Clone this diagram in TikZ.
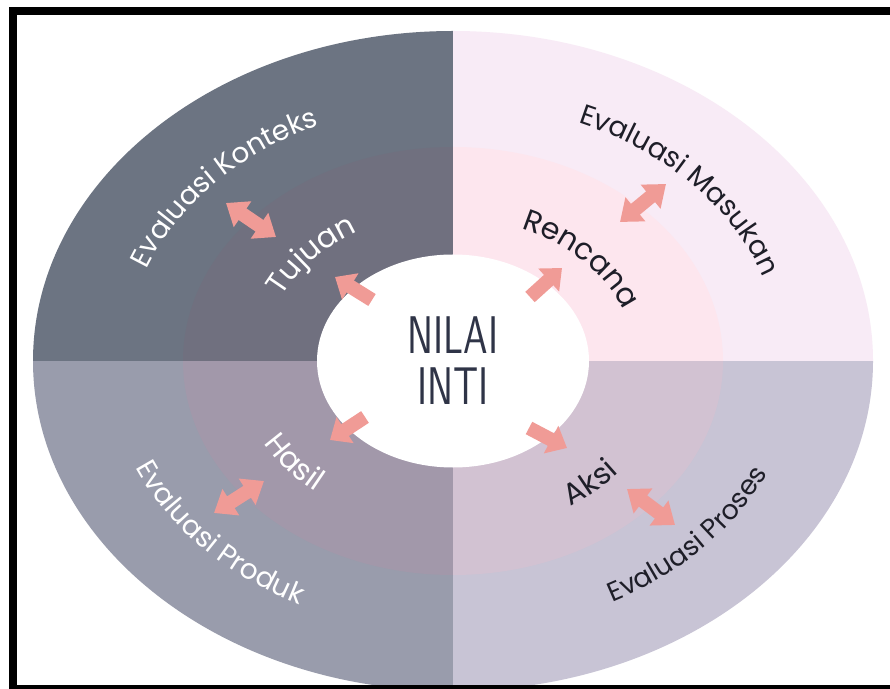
\documentclass[tikz,border=0pt]{standalone}
\usepackage{fontspec}
\usepackage{graphicx}
\usetikzlibrary{decorations.text,arrows.meta,shapes.geometric}
\newfontfamily\labfont{Poppins}
\definecolor{tlO}{HTML}{6C7482}
\definecolor{tlI}{HTML}{70707F}
\definecolor{trO}{HTML}{F8EBF6}
\definecolor{trI}{HTML}{FDE6EE}
\definecolor{blO}{HTML}{999CAC}
\definecolor{blI}{HTML}{A298AA}
\definecolor{brO}{HTML}{C8C4D5}
\definecolor{brI}{HTML}{D2C2D2}
\definecolor{arrowc}{HTML}{F09B96}
\definecolor{coretext}{HTML}{2F3447}
\definecolor{darktext}{HTML}{1E1E28}
\begin{document}
\begin{tikzpicture}[x=1pt,y=1pt,
  pa/.style={draw=arrowc, line width=14pt, -{Triangle[width=30pt,length=18pt]}},
  dpa/.style={draw=arrowc, line width=14pt, {Triangle[width=30pt,length=20pt]}-{Triangle[width=30pt,length=20pt]}},
]
\useasboundingbox (0,0) rectangle (890,688);
\fill[white] (0,0) rectangle (890,688);
\coordinate (C) at (453,327);
% outer quadrants
\begin{scope}
\clip (C) ellipse [x radius=420pt, y radius=330pt];
\fill[tlO] (C) rectangle (0,700);
\fill[trO] (C) rectangle (900,700);
\fill[blO] (C) rectangle (0,-20);
\fill[brO] (C) rectangle (900,-20);
\end{scope}
% inner tint
\begin{scope}
\clip (C) ellipse [x radius=270pt, y radius=214pt];
\fill[tlI] (C) rectangle (0,700);
\fill[trI] (C) rectangle (900,700);
\fill[blI] (C) rectangle (0,-20);
\fill[brI] (C) rectangle (900,-20);
\end{scope}
% core
\node[ellipse, fill=white, minimum width=272pt, minimum height=213pt, inner sep=0pt,
      align=center, text=coretext, font=\sffamily\fontsize{53}{51}\selectfont] (core) at (C)
      {\scalebox{0.74}[1]{NILAI}\\\scalebox{0.74}[1]{INTI}};
% outer labels
\path[decorate, decoration={text along path, text align=center, text color=white,
   text={|\labfont\fontsize{28}{32}\selectfont|Evaluasi Konteks}}]
   ([shift={(C)}]184:328pt and 258pt) arc[start angle=184, end angle=94, x radius=328pt, y radius=258pt];
\path[decorate, decoration={text along path, text align=center, text color=darktext,
   text={|\labfont\fontsize{28}{32}\selectfont|Evaluasi Masukan}}]
   ([shift={(C)}]86:328pt and 258pt) arc[start angle=86, end angle=-4, x radius=328pt, y radius=258pt];
\path[decorate, decoration={text along path, text align=center, text color=white,
   text={|\labfont\fontsize{28}{32}\selectfont|Evaluasi Produk}}]
   ([shift={(C)}]178:345pt and 272pt) arc[start angle=178, end angle=264, x radius=345pt, y radius=272pt];
\path[decorate, decoration={text along path, text align=center, text color=darktext,
   text={|\labfont\fontsize{27}{31}\selectfont|Evaluasi Proses}}]
   ([shift={(C)}]276:345pt and 272pt) arc[start angle=276, end angle=362, x radius=345pt, y radius=272pt];
% inner labels
\path[decorate, decoration={text along path, text align=center, text color=white,
   text={|\labfont\fontsize{30}{34}\selectfont|Tujuan}}]
   ([shift={(C)}]183:190pt and 150pt) arc[start angle=183, end angle=97, x radius=190pt, y radius=150pt];
\path[decorate, decoration={text along path, text align=center, text color=darktext,
   text={|\labfont\fontsize{30}{34}\selectfont|Rencana}}]
   ([shift={(C)}]88:182pt and 143pt) arc[start angle=88, end angle=-4, x radius=182pt, y radius=143pt];
\path[decorate, decoration={text along path, text align=center, text color=white,
   text={|\labfont\fontsize{30}{34}\selectfont|Hasil}}]
   ([shift={(C)}]177:216pt and 170pt) arc[start angle=177, end angle=257, x radius=216pt, y radius=170pt];
\path[decorate, decoration={text along path, text align=center, text color=darktext,
   text={|\labfont\fontsize{30}{34}\selectfont|Aksi}}]
   ([shift={(C)}]271:218pt and 172pt) arc[start angle=271, end angle=357, x radius=218pt, y radius=172pt];
% single arrows from core
\coordinate (a1s) at (372,388); \coordinate (a1e) at (335,411);
\coordinate (a2s) at (530,391); \coordinate (a2e) at (562,420);
\coordinate (a3s) at (365,271); \coordinate (a3e) at (330,248);
\coordinate (a4s) at (529,260); \coordinate (a4e) at (567,240);
\draw[pa] (a1s) -- (a1e);
\draw[pa] (a2s) -- (a2e);
\draw[pa] (a3s) -- (a3e);
\draw[pa] (a4s) -- (a4e);
% double arrows
\coordinate (d1a) at (226,485); \coordinate (d1b) at (276,451);
\coordinate (d2a) at (666,504); \coordinate (d2b) at (620,466);
\coordinate (d3a) at (214,175); \coordinate (d3b) at (264,207);
\coordinate (d4a) at (675,163); \coordinate (d4b) at (627,199);
\draw[dpa] (d1a) -- (d1b);
\draw[dpa] (d2a) -- (d2b);
\draw[dpa] (d3a) -- (d3b);
\draw[dpa] (d4a) -- (d4b);
% frame
\draw[line width=8pt] (13,-1) -- (13,677) -- (910,677);
\draw[line width=8pt] (9,-1) -- (910,-1);
\end{tikzpicture}
\end{document}
